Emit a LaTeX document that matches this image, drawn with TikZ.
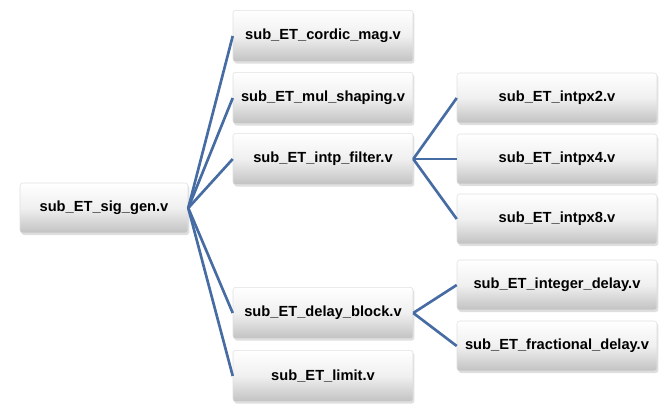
\documentclass[tikz,border=0pt]{standalone}
\usepackage{fontspec}
\setmainfont{Liberation Sans}
\usepackage{tikz}
\usetikzlibrary{shadows}
\definecolor{linkblue}{RGB}{70,108,163}

\begin{document}
\begin{tikzpicture}[
    x=0.75pt, y=-0.75pt,
    file/.style={
        rectangle,
        rounded corners=2pt,
        draw=black!12,
        top color=white,
        bottom color=black!24,
        middle color=white!94!black,
        drop shadow={shadow xshift=1pt, shadow yshift=-1.5pt, opacity=0.25},
        font=\fontsize{11}{13}\selectfont\bfseries,
        inner sep=1pt
    },
    root/.style={file, minimum width=126pt, minimum height=37.5pt},
    sub/.style={file, minimum width=135pt, minimum height=38.5pt},
    leaf/.style={file, minimum width=150pt, minimum height=37.5pt},
    link/.style={draw=linkblue, line width=2pt}
]
\useasboundingbox (0,0) rectangle (669,418);

\node[root] (sig) at (104,208) {sub\_ET\_sig\_gen.v};

\node[sub] (cordic) at (323,36) {sub\_ET\_cordic\_mag.v};
\node[sub] (mul) at (323,98) {sub\_ET\_mul\_shaping.v};
\node[sub] (intp) at (323,159) {sub\_ET\_intp\_filter.v};
\node[sub] (delay) at (323,313) {sub\_ET\_delay\_block.v};
\node[sub] (limit) at (323,376) {sub\_ET\_limit.v};

\node[leaf] (x2) at (557,98) {sub\_ET\_intpx2.v};
\node[leaf] (x4) at (557,159) {sub\_ET\_intpx4.v};
\node[leaf] (x8) at (557,219) {sub\_ET\_intpx8.v};
\node[leaf] (intdel) at (557,285) {sub\_ET\_integer\_delay.v};
\node[leaf] (fracdel) at (557,346) {sub\_ET\_fractional\_delay.v};

\foreach \c in {cordic, mul, intp, delay, limit}
    \draw[link] (sig.east) -- (\c.west);
\foreach \c in {x2, x4, x8}
    \draw[link] (intp.east) -- (\c.west);
\foreach \c in {intdel, fracdel}
    \draw[link] (delay.east) -- (\c.west);

\end{tikzpicture}
\end{document}
